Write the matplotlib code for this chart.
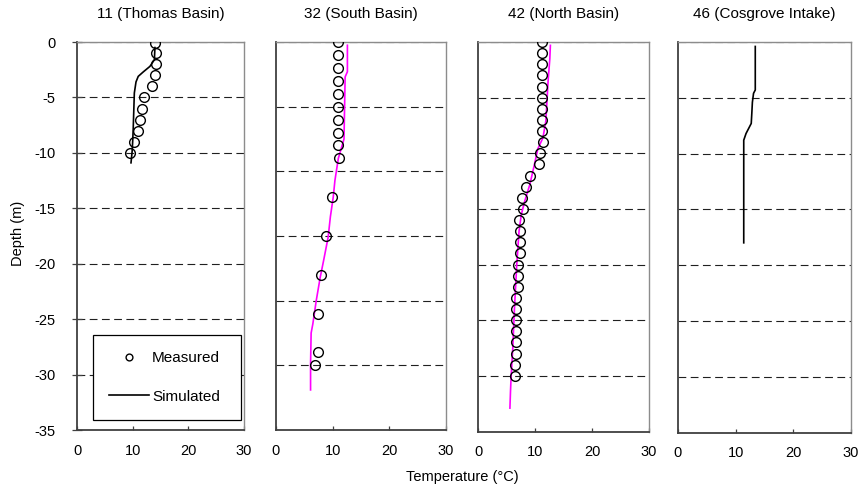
import matplotlib
matplotlib.use("Agg")
import matplotlib.pyplot as plt

plt.rcParams['font.family'] = ['Liberation Sans', 'DejaVu Sans']
plt.rcParams['axes.unicode_minus'] = False

# panel titles
titles = ["11 (Thomas Basin)", "32 (South Basin)", "42 (North Basin)",
          "46 (Cosgrove Intake)"]

# 11 (Thomas Basin)
p1_meas_depth = [-0.1, -1, -2, -3, -4, -5, -6, -7, -8, -9, -10]
p1_meas_temp = [14.1, 14.2, 14.2, 14.1, 13.5, 12.1, 11.6, 11.4, 11.0, 10.2, 9.6]
p1_sim_depth = [-0.5, -1.6, -2.2, -2.7, -3.1, -3.6, -4.6, -7.8, -9.0, -9.9, -10.9]
p1_sim_temp = [14.0, 13.9, 13.1, 11.9, 11.0, 10.6, 10.3, 10.1, 10.0, 9.9, 9.7]

# 32 (South Basin)
p2_meas_depth = [0, -1, -2, -3, -4, -5, -6, -7, -8, -9, -12, -15, -18, -21, -24, -25]
p2_meas_temp = [10.9, 10.9, 10.9, 11.0, 10.9, 11.0, 10.9, 10.9, 10.9, 11.1,
                9.8, 8.8, 7.9, 7.4, 7.4, 6.9]
p2_sim_depth = [-0.25, -2.3, -2.7, -7.5, -9.0, -10.7, -12.0, -13.5, -15.1,
                -16.9, -18.2, -20.0, -21.8, -22.5, -24.9, -26.9]
p2_sim_temp = [12.6, 12.6, 12.2, 12.0, 11.0, 10.4, 10.1, 9.6, 9.2, 8.4, 7.8,
               7.1, 6.5, 6.2, 6.1, 6.1]

# 42 (North Basin)
p3_meas_depth = [0, -1, -2, -3, -4, -5, -6, -7, -8, -9, -10, -11, -12, -13,
                 -14, -15, -16, -17, -18, -19, -20, -21, -22, -23, -24, -25,
                 -26, -27, -28, -29, -30]
p3_meas_temp = [11.3, 11.3, 11.3, 11.3, 11.3, 11.3, 11.3, 11.3, 11.3, 11.4,
                10.9, 10.7, 9.1, 8.4, 7.7, 7.9, 7.2, 7.3, 7.3, 7.3, 7.0, 7.0,
                7.1, 6.6, 6.6, 6.7, 6.7, 6.7, 6.7, 6.5, 6.5]
p3_sim_depth = [-0.3, -1.5, -3.5, -7.1, -8.6, -9.6, -11.0, -12.8, -14.3,
                -15.5, -17.0, -20.0, -23.9, -27.5, -30.2, -31.4, -32.9]
p3_sim_temp = [12.7, 12.6, 12.3, 11.9, 11.4, 10.5, 9.9, 9.1, 8.2, 7.6, 7.2,
               6.8, 6.4, 6.1, 5.8, 5.7, 5.6]

# 46 (Cosgrove Intake), simulated only
p4_sim_depth = [-0.4, -4.3, -4.6, -5.4, -6.4, -7.3, -7.8, -8.2, -8.8, -18.0]
p4_sim_temp = [13.4, 13.4, 13.1, 12.9, 12.8, 12.7, 12.2, 11.8, 11.4, 11.4]

x_ticks = [0, 10, 20, 30]
y_ticks_35 = [0, -5, -10, -15, -20, -25, -30, -35]
y_ticks_30 = [0, -5, -10, -15, -20, -25, -30]

fig = plt.figure(figsize=(8.6, 4.9), dpi=100)


def px(l, t, r, b):
    return [l / 860, 1 - b / 490, (r - l) / 860, (b - t) / 490]


boxes = [px(77, 42, 244, 430), px(276, 42, 446, 430),
         px(478, 42, 649, 431.5), px(678, 42, 851, 432.5)]
ylims = [-35, -30, -35, -35]
measured = [(p1_meas_temp, p1_meas_depth), (p2_meas_temp, p2_meas_depth),
            (p3_meas_temp, p3_meas_depth), None]
simulated = [(p1_sim_temp, p1_sim_depth, 'black'),
             (p2_sim_temp, p2_sim_depth, '#ff00ff'),
             (p3_sim_temp, p3_sim_depth, '#ff00ff'),
             (p4_sim_temp, p4_sim_depth, 'black')]

axes = []
for i in range(4):
    ax = fig.add_axes(boxes[i])
    axes.append(ax)
    ax.set_xlim(0, 30)
    ax.set_ylim(ylims[i], 0)
    ax.set_xticks(x_ticks)
    ax.set_yticks(y_ticks_35 if ylims[i] == -35 else y_ticks_30)
    ax.grid(axis='y', color='#202020', linestyle=(0, (7, 4)), linewidth=0.8)
    ax.set_axisbelow(True)
    for s in ['left', 'bottom']:
        ax.spines[s].set_color('#404040')
        ax.spines[s].set_linewidth(1.3)
    for s in ['top', 'right']:
        ax.spines[s].set_color('#8c8c8c')
        ax.spines[s].set_linewidth(1.0)
    ax.tick_params(axis='x', direction='in', length=3, width=0.9,
                   color='#404040', labelsize=10.5, pad=10)
    if i == 0:
        ax.tick_params(axis='y', direction='inout', length=7, width=0.9,
                       color='#404040', labelsize=10.5, pad=12)
    else:
        ax.tick_params(axis='y', left=False, labelleft=False)
    ax.set_title(titles[i], fontsize=11, pad=17)

    tS, dS, col = simulated[i]
    ax.plot(tS, dS, color=col, linewidth=1.2, label='Simulated', zorder=3)
    if measured[i] is not None:
        tM, dM = measured[i]
        ax.plot(tM, dM, linestyle='none', marker='o', markersize=7,
                markerfacecolor='none', markeredgecolor='black',
                markeredgewidth=1.0, label='Measured', zorder=4)

# legend in first panel
h, l = axes[0].get_legend_handles_labels()
leg = axes[0].legend(h[::-1], l[::-1], loc='lower left',
                     bbox_to_anchor=(0.096, 0.026, 0.887, 0.22), mode='expand',
                     fontsize=11, frameon=True, fancybox=False,
                     edgecolor='black', framealpha=1, borderpad=1.06,
                     labelspacing=1.6, handlelength=2.6, handletextpad=0.2,
                     markerscale=0.7, borderaxespad=0)
leg.get_frame().set_linewidth(0.9)
leg.set_zorder(10)

fig.text(462 / 860, 1 - 477 / 490, "Temperature (°C)", ha='center',
         va='center', fontsize=10.5)
fig.text(18 / 860, 1 - 233 / 490, "Depth (m)", ha='center', va='center',
         rotation=90, fontsize=10.5)

fig.savefig("out.png", dpi=100)
